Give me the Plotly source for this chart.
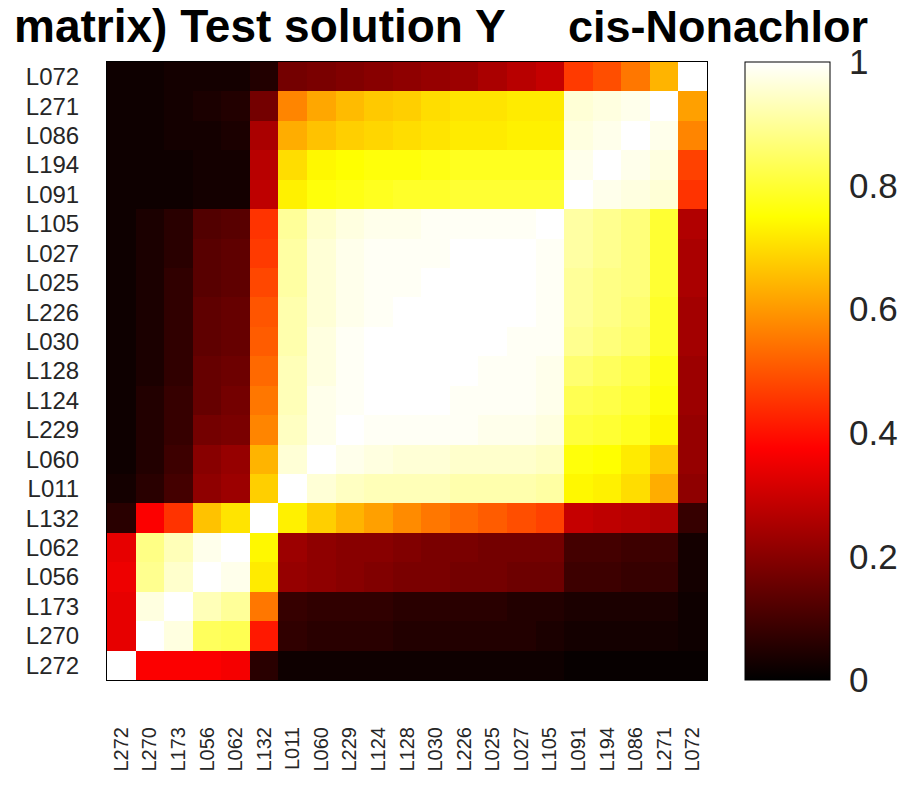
import plotly.graph_objects as go

# Category labels (bottom-to-top on y, left-to-right on x)
labels = ["L272", "L270", "L173", "L056", "L062", "L132", "L011", "L060", "L229", "L124",
          "L128", "L030", "L226", "L025", "L027", "L105", "L091", "L194", "L086", "L271", "L072"]

# Rows from top (L072) to bottom (L272); columns follow `labels` (L272 ... L072)
row_L072 = [0.02, 0.02, 0.03, 0.03, 0.03, 0.05, 0.17, 0.18, 0.19, 0.20, 0.21, 0.22, 0.23, 0.25, 0.27, 0.29, 0.46, 0.49, 0.55, 0.64, 1.00]
row_L271 = [0.02, 0.02, 0.03, 0.04, 0.05, 0.17, 0.57, 0.62, 0.65, 0.67, 0.68, 0.70, 0.71, 0.71, 0.72, 0.72, 0.96, 0.97, 0.98, 1.00, 0.61]
row_L086 = [0.02, 0.02, 0.03, 0.03, 0.04, 0.25, 0.63, 0.66, 0.68, 0.69, 0.70, 0.71, 0.72, 0.72, 0.73, 0.73, 0.97, 0.98, 1.00, 0.98, 0.57]
row_L194 = [0.02, 0.02, 0.02, 0.03, 0.03, 0.27, 0.70, 0.74, 0.75, 0.76, 0.76, 0.77, 0.78, 0.78, 0.78, 0.78, 0.98, 1.00, 0.98, 0.97, 0.47]
row_L091 = [0.02, 0.02, 0.02, 0.03, 0.03, 0.28, 0.73, 0.76, 0.77, 0.78, 0.79, 0.79, 0.80, 0.80, 0.80, 0.80, 1.00, 0.98, 0.97, 0.96, 0.45]
row_L105 = [0.02, 0.04, 0.06, 0.12, 0.13, 0.45, 0.90, 0.95, 0.97, 0.98, 0.98, 0.99, 0.99, 0.99, 0.99, 1.00, 0.91, 0.89, 0.87, 0.80, 0.26]
row_L027 = [0.02, 0.04, 0.06, 0.13, 0.14, 0.46, 0.91, 0.96, 0.98, 0.99, 0.99, 0.99, 1.00, 1.00, 1.00, 0.99, 0.91, 0.89, 0.87, 0.80, 0.25]
row_L025 = [0.02, 0.04, 0.07, 0.13, 0.14, 0.48, 0.91, 0.96, 0.98, 0.99, 0.99, 1.00, 1.00, 1.00, 1.00, 0.99, 0.90, 0.88, 0.87, 0.80, 0.25]
row_L226 = [0.02, 0.04, 0.07, 0.14, 0.15, 0.50, 0.92, 0.96, 0.98, 0.99, 1.00, 1.00, 1.00, 1.00, 1.00, 0.99, 0.90, 0.88, 0.86, 0.79, 0.24]
row_L030 = [0.02, 0.04, 0.07, 0.14, 0.15, 0.51, 0.92, 0.97, 0.99, 1.00, 1.00, 1.00, 1.00, 1.00, 0.99, 0.99, 0.89, 0.87, 0.85, 0.79, 0.24]
row_L128 = [0.02, 0.04, 0.07, 0.15, 0.16, 0.53, 0.93, 0.97, 0.99, 1.00, 1.00, 1.00, 1.00, 0.99, 0.99, 0.98, 0.86, 0.84, 0.82, 0.77, 0.23]
row_L124 = [0.02, 0.05, 0.08, 0.15, 0.17, 0.55, 0.93, 0.98, 0.99, 1.00, 1.00, 1.00, 0.99, 0.99, 0.99, 0.98, 0.83, 0.82, 0.80, 0.76, 0.23]
row_L229 = [0.02, 0.05, 0.08, 0.17, 0.18, 0.57, 0.94, 0.98, 1.00, 0.99, 0.99, 0.99, 0.99, 0.98, 0.98, 0.97, 0.81, 0.80, 0.78, 0.74, 0.22]
row_L060 = [0.02, 0.05, 0.09, 0.20, 0.22, 0.64, 0.96, 1.00, 0.98, 0.97, 0.96, 0.96, 0.95, 0.95, 0.95, 0.94, 0.76, 0.75, 0.72, 0.67, 0.22]
row_L011 = [0.03, 0.06, 0.10, 0.21, 0.23, 0.68, 1.00, 0.96, 0.94, 0.93, 0.93, 0.93, 0.92, 0.92, 0.92, 0.91, 0.74, 0.73, 0.70, 0.63, 0.21]
row_L132 = [0.06, 0.37, 0.45, 0.66, 0.71, 1.00, 0.73, 0.68, 0.64, 0.61, 0.58, 0.55, 0.53, 0.51, 0.49, 0.47, 0.29, 0.28, 0.27, 0.26, 0.08]
row_L062 = [0.34, 0.88, 0.93, 0.98, 1.00, 0.74, 0.23, 0.21, 0.20, 0.20, 0.19, 0.18, 0.18, 0.17, 0.17, 0.17, 0.10, 0.10, 0.09, 0.09, 0.03]
row_L056 = [0.35, 0.89, 0.95, 1.00, 0.98, 0.72, 0.22, 0.21, 0.20, 0.19, 0.18, 0.18, 0.17, 0.17, 0.16, 0.16, 0.09, 0.09, 0.08, 0.08, 0.03]
row_L173 = [0.34, 0.97, 1.00, 0.93, 0.90, 0.55, 0.08, 0.07, 0.07, 0.07, 0.06, 0.06, 0.06, 0.06, 0.05, 0.05, 0.04, 0.04, 0.04, 0.04, 0.02]
row_L270 = [0.34, 1.00, 0.97, 0.84, 0.83, 0.41, 0.07, 0.06, 0.06, 0.06, 0.05, 0.05, 0.05, 0.05, 0.05, 0.04, 0.03, 0.03, 0.03, 0.03, 0.02]
row_L272 = [1.00, 0.37, 0.37, 0.37, 0.36, 0.06, 0.02, 0.02, 0.02, 0.02, 0.02, 0.02, 0.02, 0.02, 0.02, 0.02, 0.01, 0.01, 0.01, 0.01, 0.01]

rows_top_to_bottom = [row_L072, row_L271, row_L086, row_L194, row_L091, row_L105, row_L027,
                      row_L025, row_L226, row_L030, row_L128, row_L124, row_L229, row_L060,
                      row_L011, row_L132, row_L062, row_L056, row_L173, row_L270, row_L272]
y_labels = labels[::-1]

colorbar_ticks = [0, 0.2, 0.4, 0.6, 0.8, 1]
colorbar_text = ["0", "0.2", "0.4", "0.6", "0.8", "1"]

title_left = "matrix) Test solution Y"
title_right = "cis-Nonachlor"

# MATLAB-style "hot" colormap
hot = [[0.0, "rgb(0,0,0)"], [0.375, "rgb(255,0,0)"],
       [0.75, "rgb(255,255,0)"], [1.0, "rgb(255,255,255)"]]

FONT = "Liberation Sans, Arial, sans-serif"
W, H = 913, 802
L, R, T, B = 107, 206, 62, 122
pw = W - L - R
ph = H - T - B

fig = go.Figure(go.Heatmap(
    z=rows_top_to_bottom, x=labels, y=y_labels,
    colorscale=hot, zmin=0, zmax=1,
    colorbar=dict(
        x=(745 - L) / pw, xanchor="left", xpad=0,
        y=0.5, yanchor="middle", ypad=0,
        thickness=85, thicknessmode="pixels",
        len=ph, lenmode="pixels",
        outlinecolor="#000", outlinewidth=1,
        tickvals=colorbar_ticks, ticktext=colorbar_text,
        ticks="outside", ticklen=12, tickcolor="rgba(0,0,0,0)",
        tickfont=dict(family=FONT, size=35, color="#262626"),
    ),
))

fig.update_layout(
    width=W, height=H,
    margin=dict(l=L, r=R, t=T, b=B),
    paper_bgcolor="white", plot_bgcolor="white",
    xaxis=dict(type="category", categoryorder="array", categoryarray=labels,
               tickangle=-90, showgrid=False, zeroline=False, ticks="",
               showline=True, mirror=True, linecolor="#000", linewidth=1,
               ticklabelstandoff=38,
               tickfont=dict(family=FONT, size=20, color="#262626")),
    yaxis=dict(type="category", categoryorder="array", categoryarray=y_labels,
               autorange="reversed", showgrid=False, zeroline=False, ticks="",
               showline=True, mirror=True, linecolor="#000", linewidth=1,
               ticklabelstandoff=22,
               tickfont=dict(family=FONT, size=24, color="#262626")),
    annotations=[
        dict(text="<b>" + title_left + "</b>", xref="paper", yref="paper",
             x=(12 - L) / pw, y=(H - B - 26) / ph, xanchor="left", yanchor="middle",
             showarrow=False, font=dict(family=FONT, size=46, color="#000")),
        dict(text="<b>" + title_right + "</b>", xref="paper", yref="paper",
             x=(566 - L) / pw, y=(H - B - 26) / ph, xanchor="left", yanchor="middle",
             showarrow=False, font=dict(family=FONT, size=45, color="#000")),
    ],
)

fig.write_html("out.html",
               config={"displayModeBar": False},
               post_script="document.body.style.margin='0';document.body.style.overflow='hidden';")
